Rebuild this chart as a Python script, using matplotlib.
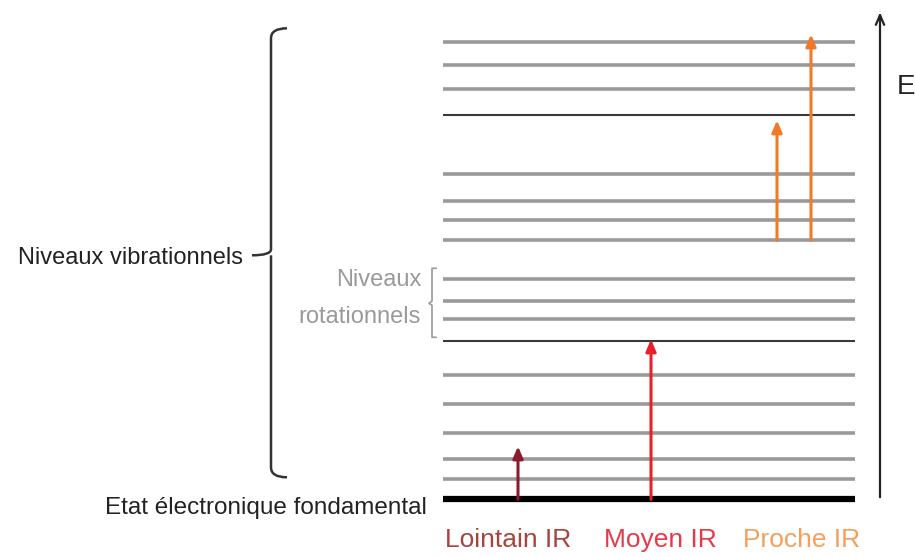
import numpy as np
import matplotlib.pyplot as plt
from matplotlib.path import Path
from matplotlib.patches import PathPatch

plt.rcParams['font.family'] = ['Liberation Sans Narrow', 'Liberation Sans', 'DejaVu Sans']

# =========================
# DATA (energy, arbitrary units, ground state = 0)
# =========================

ground_level = 0
gray_levels = [20, 40, 66, 95, 124, 180, 198, 220, 259, 279, 298, 325, 410, 434, 457]
dark_levels = [158, 384]

transition_names = ["Lointain IR", "Moyen IR", "Proche IR", "Proche IR"]
transition_x = [518, 651, 777, 811]
transition_start = [0, 0, 259, 259]
transition_end = [53, 160, 379, 465]
transition_colors = ["#8c1a2e", "#e8202c", "#f07a2a", "#f07a2a"]

band_labels = ["Lointain IR", "Moyen IR", "Proche IR"]
band_x = [508, 660, 802]
band_colors = ["#a8443e", "#e63a48", "#f4a05c"]

x_left, x_right = 443, 855

# =========================
# FIGURE
# =========================

fig = plt.figure(figsize=(9.15, 5.57), dpi=100)
ax = fig.add_axes([0, 0, 1, 1])
ax.set_xlim(0, 915)
ax.set_ylim(-57.7, 499.3)
ax.axis("off")

for e in gray_levels:
    ax.hlines(e, x_left, x_right, color="#9a9a9a", lw=2.6, zorder=1)
for e in dark_levels:
    ax.hlines(e, x_left, x_right, color="#3a3a3a", lw=1.5, zorder=1)
ax.hlines(ground_level, x_left, x_right, color="black", lw=4.5, zorder=2)

# transitions
for x, s, e, c in zip(transition_x, transition_start, transition_end, transition_colors):
    ax.annotate("", xy=(x, e), xytext=(x, s),
                arrowprops=dict(arrowstyle="-|>,head_length=0.7,head_width=0.3",
                                color=c, lw=2.2, shrinkA=0, shrinkB=0), zorder=3)

for lab, x, c in zip(band_labels, band_x, band_colors):
    ax.text(x, -41, lab, color=c, fontsize=19, ha="center", va="center")

# energy axis
ax.annotate("", xy=(880, 487), xytext=(880, 2),
            arrowprops=dict(arrowstyle="->,head_length=0.7,head_width=0.3",
                            color="#222222", lw=1.6, shrinkA=0, shrinkB=0))
ax.text(897, 412, "E", fontsize=20, ha="left", va="center", color="#222222")

# vibrational brace
bx, top, bot, mid = 271, 471, 22, 244
verts = [(287, top), (271, top), (bx, top - 10),
         (bx, mid + 6), (bx, mid), (252, mid),
         (bx, mid), (bx, mid - 6),
         (bx, bot + 10), (271, bot), (287, bot)]
codes = [Path.MOVETO, Path.CURVE3, Path.CURVE3,
         Path.LINETO, Path.CURVE3, Path.CURVE3,
         Path.MOVETO, Path.CURVE3,
         Path.LINETO, Path.CURVE3, Path.CURVE3]
ax.add_patch(PathPatch(Path(verts, codes), fill=False, lw=1.8, edgecolor="#333333"))
ax.text(243, 241, "Niveaux vibrationnels", fontsize=17, ha="right", va="center", color="#222222")

# rotational bracket
rx, rtop, rbot, rmid = 432, 231, 162, 196
ax.plot([rx + 4, rx, rx, rx - 3, rx, rx, rx + 4],
        [rtop, rtop, rmid + 2, rmid, rmid - 2, rbot, rbot], color="#9a9a9a", lw=1.2)
ax.text(421, 219, "Niveaux", fontsize=17, ha="right", va="center", color="#9a9a9a")
ax.text(421, 182, "rotationnels", fontsize=17, ha="right", va="center", color="#9a9a9a")

ax.text(427, -9, "Etat électronique fondamental", fontsize=17.5, ha="right", va="center",
        color="#222222")

plt.savefig("out.png", dpi=100)
